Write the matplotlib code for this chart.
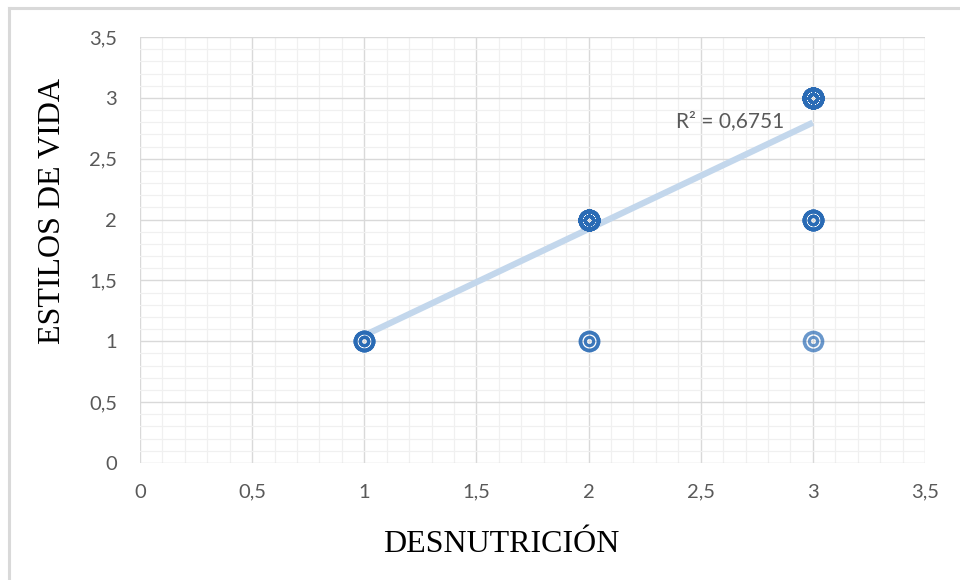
import matplotlib
matplotlib.use("Agg")
import matplotlib.pyplot as plt
import numpy as np
from matplotlib.lines import Line2D
from matplotlib.ticker import MultipleLocator, FuncFormatter

# distinct points and how many respondents sit on each one
desnutricion = [1, 2, 2, 3, 3, 3]
estilos_vida = [1, 1, 2, 1, 2, 3]
conteo = [5, 2, 30, 1, 7, 35]

x = np.repeat(desnutricion, conteo)
y = np.repeat(estilos_vida, conteo)

b, a = np.polyfit(x, y, 1)
r2 = np.corrcoef(x, y)[0, 1] ** 2

blue = "#2A6BB5"
trend = "#C3D7EC"
gray = "#595959"

fig = plt.figure(figsize=(9.6, 5.8), dpi=100)
ax = fig.add_axes([0.1458, 0.2017, 0.8177, 0.7345])

ax.set_xlim(0, 3.5)
ax.set_ylim(0, 3.5)
ax.xaxis.set_major_locator(MultipleLocator(0.5))
ax.yaxis.set_major_locator(MultipleLocator(0.5))
ax.xaxis.set_minor_locator(MultipleLocator(0.1))
ax.yaxis.set_minor_locator(MultipleLocator(0.1))
fmt = FuncFormatter(lambda v, p: f"{v:g}".replace(".", ","))
ax.xaxis.set_major_formatter(fmt)
ax.yaxis.set_major_formatter(fmt)
ax.grid(which="major", color="#D9D9D9", lw=1.0)
ax.grid(which="minor", color="#F0F0F0", lw=0.9)
ax.set_axisbelow(True)
for s in ax.spines.values():
    s.set_visible(False)
ax.tick_params(which="both", length=0)
ax.tick_params(axis="x", pad=15, labelsize=14.5, labelcolor=gray)
ax.tick_params(axis="y", pad=16.5, labelsize=14.5, labelcolor=gray)
for lab in ax.get_xticklabels() + ax.get_yticklabels():
    lab.set_family("Lato")

# trend line
xl = np.array([x.min(), x.max()])
ax.plot(xl, a + b * xl, color=trend, lw=4.5, solid_capstyle="butt", zorder=2)

# markers: outer ring + inner ring, semi transparent so overlaps darken
ax.plot(x, y, ls="none", marker="o", ms=13, mfc="none", mec=blue, mew=2.6,
        alpha=0.7, zorder=3)
ax.plot(x, y, ls="none", marker="o", ms=6, mfc="none", mec=blue, mew=2.2,
        alpha=0.7, zorder=3)

ax.text(2.39, 2.81, f"R² = {r2:.4f}".replace(".", ","), color=gray,
        fontsize=15, family="Lato", ha="left", va="center", zorder=4)

ax.set_xlabel("DESNUTRICIÓN", family="Liberation Serif", fontsize=23,
              color="black", labelpad=21)
ax.set_ylabel("ESTILOS DE VIDA", family="Liberation Serif", fontsize=23,
              color="black", labelpad=16)
ax.xaxis.label.set_x(0.46)
ax.yaxis.label.set_y(0.592)

# chart frame (left and top edges visible)
fig.add_artist(Line2D([9 / 960, 9 / 960], [0, 1 - 8 / 580],
                      transform=fig.transFigure, color="#D9D9D9", lw=2.2))
fig.add_artist(Line2D([9 / 960, 1], [1 - 8 / 580, 1 - 8 / 580],
                      transform=fig.transFigure, color="#D9D9D9", lw=2.2))

fig.savefig("out.png", dpi=100)
